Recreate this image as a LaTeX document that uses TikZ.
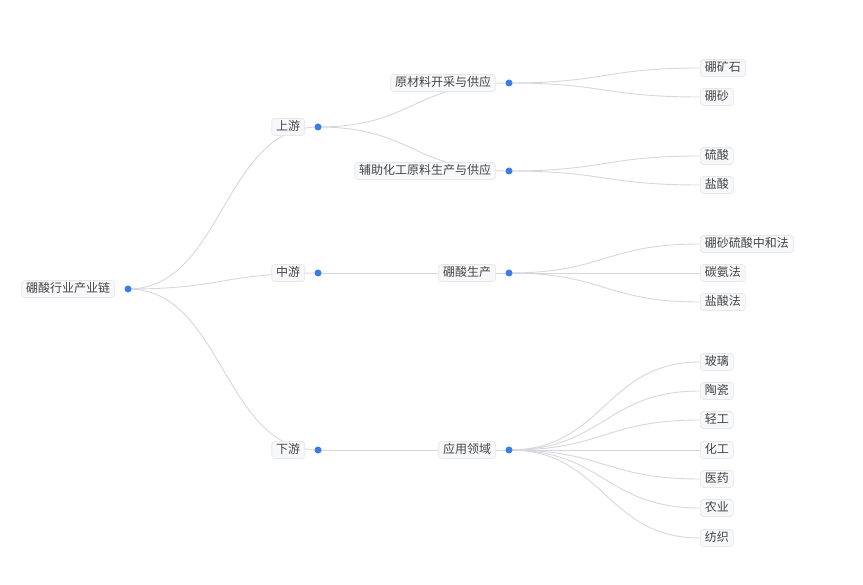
\documentclass[tikz,border=0pt]{standalone}
\usepackage{fontspec}
\newfontfamily\cjk{Noto Sans CJK SC}
\usetikzlibrary{positioning}
\definecolor{linkgray}{HTML}{D5D7DC}
\definecolor{tagfill}{HTML}{F7F8FA}
\definecolor{tagline}{HTML}{E6E7EB}
\definecolor{tagtext}{HTML}{454545}
\definecolor{dotblue}{HTML}{3A7DE9}
\begin{document}
\begin{tikzpicture}
[x=1pt,y=-1pt,%
  link/.style={draw=linkgray,line width=0.9pt},
  tag/.style={shape=rectangle,rounded corners=3pt,fill=tagfill,draw=tagline,
    line width=0.6pt,text=tagtext,font=\cjk\fontsize{12}{14}\selectfont,
    inner xsep=4.5pt,inner ysep=2.5pt,text height=9.5pt,text depth=2.5pt},
  dot/.style={fill=dotblue,draw=none}]
\useasboundingbox (0,0) rectangle (863,585);
% positions of the points
\coordinate (root) at (128,289);
\coordinate (up)   at (318,127);
\coordinate (mid)  at (318,273);
\coordinate (down) at (318,450);
\coordinate (raw)  at (509,83);
\coordinate (aux)  at (509,171);
\coordinate (acid) at (509,273);
\coordinate (app)  at (509,450);
% links
\foreach \a/\b in {root/up,root/mid,root/down,up/raw,up/aux,mid/acid,down/app}
  \draw[link] (\a) .. controls +(95,0) and +(-95,0) .. (\b);
% leaves
\foreach \p/\n/\y/\t in {raw/l1/68/硼矿石,raw/l2/97/硼砂,
    aux/l3/156/硫酸,aux/l4/185/盐酸,
    acid/l5/244/硼砂硫酸中和法,acid/l6/273/碳氨法,acid/l7/302/盐酸法,
    app/l8/362/玻璃,app/l9/391/陶瓷,app/l10/420/轻工,app/l11/450/化工,
    app/l12/479/医药,app/l13/508/农业,app/l14/538/纺织}
{
  \coordinate (\n) at (700,\y);
  \draw[link] (\p) .. controls +(95,0) and +(-95,0) .. (\n);
  \node[tag,right=0pt of \n] (\n-t) {\t};
}
% labels of the inner points
\node[tag,left=13pt of root] (root-t) {硼酸行业产业链};
\node[tag,left=13pt of up]   (up-t)   {上游};
\node[tag,left=13pt of mid]  (mid-t)  {中游};
\node[tag,left=13pt of down] (down-t) {下游};
\node[tag,left=13pt of raw]  (raw-t)  {原材料开采与供应};
\node[tag,left=13pt of aux]  (aux-t)  {辅助化工原料生产与供应};
\node[tag,left=13pt of acid] (acid-t) {硼酸生产};
\node[tag,left=13pt of app]  (app-t)  {应用领域};
\foreach \n in {root,up,mid,down,raw,aux,acid,app}
  \fill[dot] (\n) circle (3.5pt);
\end{tikzpicture}
\end{document}
